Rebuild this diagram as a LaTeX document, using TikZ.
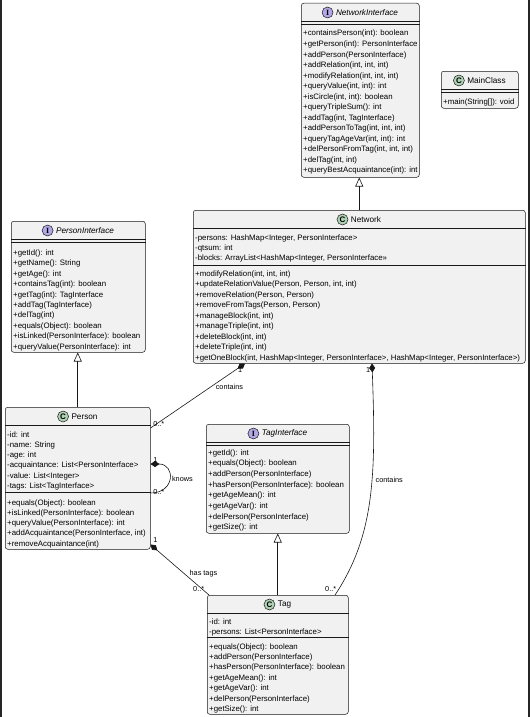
\documentclass[tikz,border=0pt]{standalone}
\usepackage{fontspec}
\setmainfont{Liberation Sans}
\newfontfamily\badgeserif{Liberation Serif}
\usetikzlibrary{arrows.meta,positioning,calc}
\definecolor{BoxFill}{HTML}{F1F1F1}
\definecolor{BoxLine}{HTML}{181818}
\definecolor{ClassGreen}{HTML}{ADD1B2}
\definecolor{IfacePurple}{HTML}{B4A7E5}

\begin{document}
\begin{tikzpicture}[x=1pt,y=-1pt,
  cls/.style={draw=BoxLine,fill=BoxFill,line width=0.5pt,rounded corners=2.5pt,anchor=north west,inner sep=0pt},
  title/.style={font=\fontsize{8.2}{10}\selectfont,inner sep=0pt},
  badge/.style={circle,draw=BoxLine,line width=0.5pt,inner sep=0pt,minimum size=11pt,font=\fontsize{8}{8}\selectfont\bfseries},
  member/.style={anchor=base west,inner sep=0pt,font=\fontsize{7.85}{10}\selectfont},
  sep/.style={draw=BoxLine,line width=0.5pt},
  inherit/.style={draw=BoxLine,line width=0.6pt,-{Triangle[open,length=9pt,width=8pt]}},
  owns/.style={draw=BoxLine,line width=0.6pt,{Diamond[length=9pt,width=6pt]}-},
  lbl/.style={font=\fontsize{7.3}{9}\selectfont,inner sep=0.5pt}]
\useasboundingbox (0,0) rectangle (530,717);
\draw[line width=2pt,black!85] (1,0) -- (1,717);
\draw[line width=2pt,black!85] (529,0) -- (529,717);

% NetworkInterface
\node[cls,minimum width=118pt,minimum height=174pt] (ni) at (301,3) {};
\node[title] (ni-t) at ([xshift=6.75pt,yshift=-9.5pt]ni.north) {\itshape NetworkInterface};
\node[badge,fill=IfacePurple,left=2.5pt of ni-t] (ni-b) {\badgeserif\bfseries I};
\draw[sep] ([yshift=-18pt]ni.north west) -- ([yshift=-18pt]ni.north east);
\draw[sep] ([yshift=-21.5pt]ni.north west) -- ([yshift=-21.5pt]ni.north east);
\foreach \m [count=\i from 0] in {{+containsPerson(int): boolean},{+getPerson(int): PersonInterface},
  {+addPerson(PersonInterface)},{+addRelation(int, int, int)},{+modifyRelation(int, int, int)},
  {+queryValue(int, int): int},{+isCircle(int, int): boolean},{+queryTripleSum(): int},
  {+addTag(int, TagInterface)},{+addPersonToTag(int, int, int)},{+queryTagAgeVar(int, int): int},
  {+delPersonFromTag(int, int, int)},{+delTag(int, int)},{+queryBestAcquaintance(int): int}}
  \node[member] (ni-m\i) at ($(ni.north west)+(2,33+10.5*\i)$) {\m};

% MainClass
\node[cls,minimum width=77pt,minimum height=37pt] (mc) at (441,71) {};
\node[title] (mc-t) at ([xshift=6.75pt,yshift=-9.5pt]mc.north) {MainClass};
\node[badge,fill=ClassGreen,left=2.5pt of mc-t] (mc-b) {C};
\draw[sep] ([yshift=-18pt]mc.north west) -- ([yshift=-18pt]mc.north east);
\draw[sep] ([yshift=-21.5pt]mc.north west) -- ([yshift=-21.5pt]mc.north east);
\node[member] (mc-m0) at ($(mc.north west)+(2,33)$) {+main(String[]): void};

% Network
\node[cls,minimum width=332pt,minimum height=153pt] (net) at (193,210) {};
\node[title] (net-t) at ([xshift=6.75pt,yshift=-9.5pt]net.north) {Network};
\node[badge,fill=ClassGreen,left=2.5pt of net-t] (net-b) {C};
\draw[sep] ([yshift=-18pt]net.north west) -- ([yshift=-18pt]net.north east);
\draw[sep] ([yshift=-55pt]net.north west) -- ([yshift=-55pt]net.north east);
\foreach \m [count=\i from 0] in {{-persons: HashMap<Integer, PersonInterface>},{-qtsum: int},
  {-blocks: ArrayList<HashMap<Integer, PersonInterface>>}}
  \node[member] (net-f\i) at ($(net.north west)+(2,30+10.45*\i)$) {\m};
\foreach \m [count=\i from 0] in {{+modifyRelation(int, int, int)},{+updateRelationValue(Person, Person, int, int)},
  {+removeRelation(Person, Person)},{+removeFromTags(Person, Person)},{+manageBlock(int, int)},
  {+manageTriple(int, int)},{+deleteBlock(int, int)},{+deleteTriple(int, int)},
  {+getOneBlock(int, HashMap<Integer, PersonInterface>, HashMap<Integer, PersonInterface>)}}
  \node[member] (net-m\i) at ($(net.north west)+(2,66.5+10.45*\i)$) {\m};

% PersonInterface
\node[cls,minimum width=134pt,minimum height=131pt] (pi) at (11,221) {};
\node[title] (pi-t) at ([xshift=6.75pt,yshift=-9.5pt]pi.north) {\itshape PersonInterface};
\node[badge,fill=IfacePurple,left=2.5pt of pi-t] (pi-b) {\badgeserif\bfseries I};
\draw[sep] ([yshift=-18pt]pi.north west) -- ([yshift=-18pt]pi.north east);
\draw[sep] ([yshift=-21.5pt]pi.north west) -- ([yshift=-21.5pt]pi.north east);
\foreach \m [count=\i from 0] in {{+getId(): int},{+getName(): String},{+getAge(): int},
  {+containsTag(int): boolean},{+getTag(int): TagInterface},{+addTag(TagInterface)},{+delTag(int)},
  {+equals(Object): boolean},{+isLinked(PersonInterface): boolean},{+queryValue(PersonInterface): int}}
  \node[member] (pi-m\i) at ($(pi.north west)+(2,34.5+10.4*\i)$) {\m};

% Person
\node[cls,minimum width=145pt,minimum height=142pt] (person) at (5,407) {};
\node[title] (person-t) at ([xshift=6.75pt,yshift=-9.5pt]person.north) {Person};
\node[badge,fill=ClassGreen,left=2.5pt of person-t] (person-b) {C};
\draw[sep] ([yshift=-18pt]person.north west) -- ([yshift=-18pt]person.north east);
\draw[sep] ([yshift=-85pt]person.north west) -- ([yshift=-85pt]person.north east);
\foreach \m [count=\i from 0] in {{-id: int},{-name: String},{-age: int},
  {-acquaintance: List<PersonInterface>},{-value: List<Integer>},{-tags: List<TagInterface>}}
  \node[member] (person-f\i) at ($(person.north west)+(2,30+10.3*\i)$) {\m};
\foreach \m [count=\i from 0] in {{+equals(Object): boolean},{+isLinked(PersonInterface): boolean},
  {+queryValue(PersonInterface): int},{+addAcquaintance(PersonInterface, int)},{+removeAcquaintance(int)}}
  \node[member] (person-m\i) at ($(person.north west)+(2,98+10.3*\i)$) {\m};

% TagInterface
\node[cls,minimum width=143pt,minimum height=109pt] (ti) at (206,424) {};
\node[title] (ti-t) at ([xshift=6.75pt,yshift=-9.5pt]ti.north) {\itshape TagInterface};
\node[badge,fill=IfacePurple,left=2.5pt of ti-t] (ti-b) {\badgeserif\bfseries I};
\draw[sep] ([yshift=-18pt]ti.north west) -- ([yshift=-18pt]ti.north east);
\draw[sep] ([yshift=-21.5pt]ti.north west) -- ([yshift=-21.5pt]ti.north east);
\foreach \m [count=\i from 0] in {{+getId(): int},{+equals(Object): boolean},{+addPerson(PersonInterface)},
  {+hasPerson(PersonInterface): boolean},{+getAgeMean(): int},{+getAgeVar(): int},
  {+delPerson(PersonInterface)},{+getSize(): int}}
  \node[member] (ti-m\i) at ($(ti.north west)+(2,31+10.7*\i)$) {\m};

% Tag
\node[cls,minimum width=141pt,minimum height=119pt] (tag) at (207,595) {};
\node[title] (tag-t) at ([xshift=6.75pt,yshift=-9.5pt]tag.north) {Tag};
\node[badge,fill=ClassGreen,left=2.5pt of tag-t] (tag-b) {C};
\draw[sep] ([yshift=-18pt]tag.north west) -- ([yshift=-18pt]tag.north east);
\draw[sep] ([yshift=-42pt]tag.north west) -- ([yshift=-42pt]tag.north east);
\foreach \m [count=\i from 0] in {{-id: int},{-persons: List<PersonInterface>}}
  \node[member] (tag-f\i) at ($(tag.north west)+(2,29+10.4*\i)$) {\m};
\foreach \m [count=\i from 0] in {{+equals(Object): boolean},{+addPerson(PersonInterface)},
  {+hasPerson(PersonInterface): boolean},{+getAgeMean(): int},{+getAgeVar(): int},
  {+delPerson(PersonInterface)},{+getSize(): int}}
  \node[member] (tag-m\i) at ($(tag.north west)+(2,54+10.45*\i)$) {\m};

% realisations
\draw[inherit] (net.north) -- (net.north |- ni.south);
\draw[inherit] (person.north) -- (person.north |- pi.south);
\draw[inherit] (tag.north) -- (tag.north |- ti.south);

% compositions
\draw[owns] ([xshift=52pt]net.south west) -- ([yshift=-21pt]person.north east)
  node[lbl,at start,anchor=north east,xshift=-2pt,yshift=-3pt]{1}
  node[lbl,pos=0.37,anchor=west,xshift=5pt]{contains}
  node[lbl,at end,anchor=south west,xshift=2pt,yshift=1pt]{0..*};
\draw[owns] ([yshift=-57pt]person.north east) .. controls +(25,0) and +(25,0) .. ([yshift=-86pt]person.north east)
  node[lbl,at start,anchor=south west,xshift=2pt,yshift=1pt]{1}
  node[lbl,pos=0.5,anchor=west,xshift=2pt]{knows}
  node[lbl,at end,anchor=west,xshift=2pt,yshift=1pt]{0..*};
\draw[owns] ([yshift=5pt]person.south east) -- ([xshift=2pt]tag.north west)
  node[lbl,at start,anchor=south west,xshift=2pt,yshift=1pt]{1}
  node[lbl,pos=0.57,anchor=west,xshift=5pt]{has tags}
  node[lbl,at end,anchor=south east,xshift=-4pt,yshift=3pt]{0..*};
\draw[owns] ([xshift=179pt]net.south west) .. controls +(4,110) and +(40,-60) .. ([xshift=128pt]tag.north west)
  node[lbl,at start,anchor=north east,xshift=-1pt,yshift=-3pt]{1}
  node[lbl,pos=0.42,anchor=west,xshift=3pt]{contains}
  node[lbl,at end,anchor=south east,xshift=2pt,yshift=3pt]{0..*};
\end{tikzpicture}
\end{document}
